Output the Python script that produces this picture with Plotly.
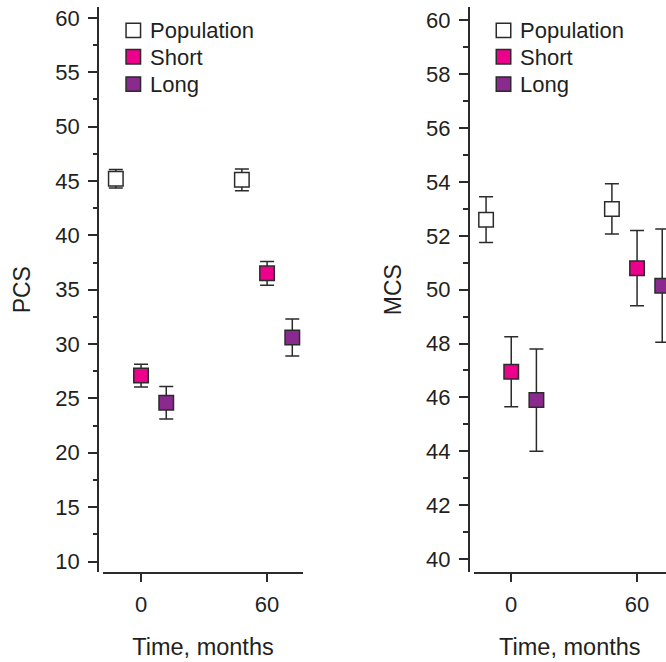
import plotly.graph_objects as go

# Visit times (months) and group names
months = [0, 60]
groups = ["Population", "Short", "Long"]

# Physical component summary (PCS): means and error half-widths
pcs_population = [45.2, 45.1]
pcs_population_err = [0.85, 1.0]
pcs_short = [27.1, 36.5]
pcs_short_err = [1.05, 1.1]
pcs_long = [24.6, 30.6]
pcs_long_err = [1.5, 1.7]

# Mental component summary (MCS): means and error half-widths
mcs_population = [52.6, 53.0]
mcs_population_err = [0.85, 0.93]
mcs_short = [46.95, 50.8]
mcs_short_err = [1.3, 1.4]
mcs_long = [45.9, 50.15]
mcs_long_err = [1.9, 2.1]

pcs_ticks = [10, 15, 20, 25, 30, 35, 40, 45, 50, 55, 60]
mcs_ticks = [40, 42, 44, 46, 48, 50, 52, 54, 56, 58, 60]
month_ticks = [0, 60]

# ---- styling ----
W, H = 666, 662
FONT = "Liberation Sans, Arial, sans-serif"
INK = "#231f20"
LINE = "#2b2b2b"
FILL = {"Population": "#ffffff", "Short": "#ec008c", "Long": "#8b2a8e"}
DODGE = {"Population": -12, "Short": 0, "Long": 12}


def fx(px):
    return px / W


def fy(px):
    return 1 - px / H


fig = go.Figure()

panels = [
    ("x", "y", [pcs_population, pcs_short, pcs_long],
     [pcs_population_err, pcs_short_err, pcs_long_err]),
    ("x2", "y2", [mcs_population, mcs_short, mcs_long],
     [mcs_population_err, mcs_short_err, mcs_long_err]),
]

for xa, ya, means, errs in panels:
    for name, m, e in zip(groups, means, errs):
        fig.add_trace(go.Scatter(
            x=[t + DODGE[name] for t in months],
            y=m,
            mode="markers",
            name=name,
            showlegend=False,
            xaxis=xa,
            yaxis=ya,
            marker=dict(symbol="square", size=14.5, color=FILL[name],
                        line=dict(color=LINE, width=1.5)),
            error_y=dict(type="data", array=e, visible=True,
                         color=LINE, thickness=1.5, width=7),
        ))

# Key boxes drawn in the upper-left corner of each panel
KEY_ROWS = [29.5, 56, 83.5]
KEY_SIDE = 14.5
shapes, annotations = [], []
for cx in (133.3, 503.5):
    for name, cy in zip(groups, KEY_ROWS):
        shapes.append(dict(
            type="rect", xref="paper", yref="paper",
            x0=fx(cx - KEY_SIDE / 2), x1=fx(cx + KEY_SIDE / 2),
            y0=fy(cy + KEY_SIDE / 2), y1=fy(cy - KEY_SIDE / 2),
            fillcolor=FILL[name], line=dict(color=LINE, width=1.5),
            layer="above",
        ))
        annotations.append(dict(
            text=name, xref="paper", yref="paper",
            x=fx(cx + 14.5), y=fy(cy + 0.5), xanchor="left", yanchor="middle",
            showarrow=False, font=dict(family=FONT, size=22, color=INK),
        ))

ydom = [fy(574), fy(6)]

common_x = dict(
    tickvals=month_ticks, ticks="outside", ticklen=8, tickwidth=1.5,
    tickcolor=LINE, showline=True, linecolor=LINE, linewidth=1.5,
    showgrid=False, zeroline=False, ticklabelstandoff=3,
    tickfont=dict(family=FONT, size=22, color=INK),
    title=dict(text="Time, months", font=dict(family=FONT, size=23.5, color=INK),
               standoff=23),
)
common_y = dict(
    ticks="outside", ticklen=9, tickwidth=1.5, tickcolor=LINE,
    showline=True, linecolor=LINE, linewidth=1.5,
    showgrid=False, zeroline=False, anchor="free", domain=ydom,
    ticklabelstandoff=4,
    tickfont=dict(family=FONT, size=22, color=INK),
)

fig.update_layout(
    width=W, height=H,
    margin=dict(l=0, r=0, t=0, b=0),
    paper_bgcolor="white", plot_bgcolor="white",
    showlegend=False,
    shapes=shapes,
    annotations=annotations,
    xaxis=dict(domain=[fx(103), fx(303)], range=[-18.1, 77.1], anchor="y",
               **common_x),
    xaxis2=dict(domain=[fx(473.7), 1.0], range=[-17.9, 73.8], anchor="y2",
                **common_x),
    yaxis=dict(range=[9, 61], position=fx(98), tickvals=pcs_ticks,
               minor=dict(dtick=2.5, tick0=0, ticks="outside", ticklen=4.5,
                          tickwidth=1.5, tickcolor=LINE),
               title=dict(text="PCS", font=dict(family=FONT, size=23, color=INK),
                          standoff=17),
               **common_y),
    yaxis2=dict(range=[39.5, 60.5], position=fx(468.7), tickvals=mcs_ticks,
                minor=dict(dtick=1, tick0=0, ticks="outside", ticklen=4.5,
                           tickwidth=1.5, tickcolor=LINE),
                title=dict(text="MCS", font=dict(family=FONT, size=23, color=INK),
                           standoff=17),
                **common_y),
)

fig.write_html("out.html")
